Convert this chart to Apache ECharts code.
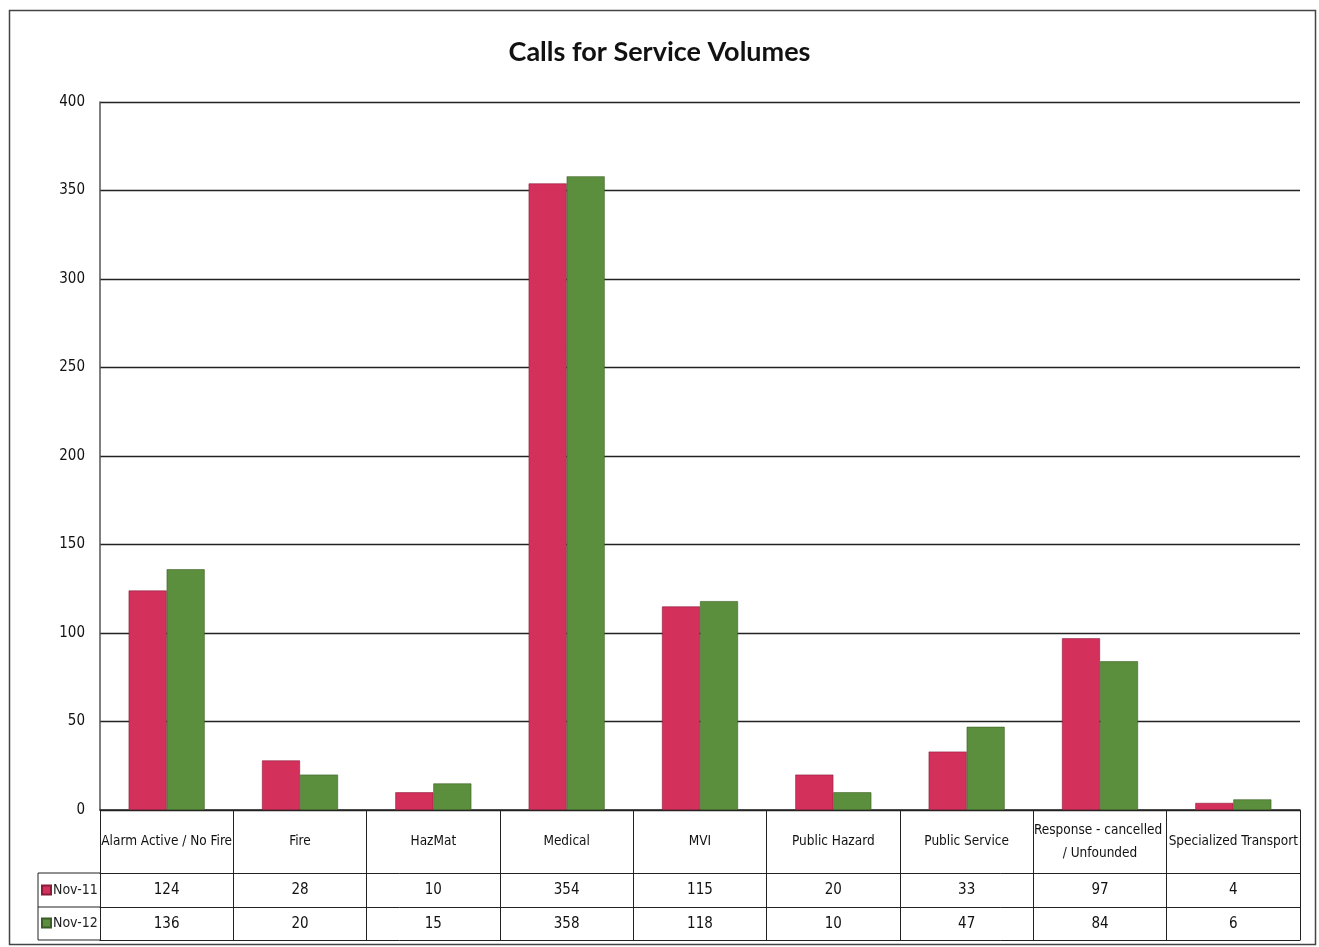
<!DOCTYPE html>
<html>
<head>
<meta charset="utf-8">
<script src="https://cdn.jsdelivr.net/npm/echarts@6/dist/echarts.min.js"></script>
<style>
  html, body { margin: 0; padding: 0; background: #fff; }
  #chart { width: 1319px; height: 947px; }
</style>
</head>
<body>
<div id="chart"></div>
<script>
const categories = [
  "Alarm Active / No Fire",
  "Fire",
  "HazMat",
  "Medical",
  "MVI",
  "Public Hazard",
  "Public Service",
  "Response - cancelled / Unfounded",
  "Specialized Transport",
];
const nov11 = [124, 28, 10, 354, 115, 20, 33, 97, 4];
const nov12 = [136, 20, 15, 358, 118, 10, 47, 84, 6];
const seriesNames = ["Nov-11", "Nov-12"];
const yTicks = { min: 0, max: 400, interval: 50 };

const dom = document.getElementById("chart");
const myChart = echarts.init(dom);

const FONT = "'Liberation Sans Narrow', 'DejaVu Sans Condensed', sans-serif";
const RED = "#d4305c";
const GREEN = "#5c8f3d";
const LINE = "#222";

// table rows under the plot: header 63px, two value rows ~34px
const headerH = 63;
const rowH = 34;

function rowAxis(offset, values, tickLen, showLabel) {
  return {
    type: "category",
    gridIndex: 0,
    position: "bottom",
    offset: offset,
    data: categories,
    axisLine: { show: true, lineStyle: { color: LINE, width: 1 } },
    axisTick: { show: tickLen > 0, length: tickLen, lineStyle: { color: LINE, width: 1 } },
    axisLabel: {
      show: showLabel,
      interval: 0,
      margin: rowH / 2,
      verticalAlign: "middle",
      fontFamily: FONT,
      fontSize: 15,
      color: "#111",
      formatter: (v, i) => (values ? String(values[i]) : ""),
    },
    splitLine: { show: false },
  };
}

const option = {
  backgroundColor: "#fff",
  animation: false,
  title: {
    text: "Calls for Service Volumes",
    left: "center",
    top: 34,
    textStyle: {
      fontFamily: "Lato",
      fontSize: 27,
      fontWeight: "bold",
      color: "#111",
    },
  },
  legend: {
    data: seriesNames,
    orient: "vertical",
    left: 38,
    top: 883,
    padding: [0, 0, 0, 3],
    itemGap: 19,
    itemWidth: 9,
    itemHeight: 9,
    icon: "rect",
    textStyle: { fontFamily: FONT, fontSize: 14, color: "#222", padding: [0, 0, 0, -3] },
    selectedMode: false,
  },
  grid: {
    left: 100,
    right: 19,
    top: 102,
    bottom: 137,
  },
  xAxis: [
    {
      type: "category",
      data: categories,
      axisLine: { show: true, lineStyle: { color: LINE, width: 1.5 } },
      axisTick: { show: true, length: headerH, lineStyle: { color: LINE, width: 1 } },
      axisLabel: {
        interval: 0,
        margin: headerH / 2,
        verticalAlign: "middle",
        width: 134,
        overflow: "break",
        lineHeight: 23,
        fontFamily: FONT,
        fontSize: 13.5,
        color: "#111",
      },
    },
    rowAxis(headerH, nov11, rowH, true),
    rowAxis(headerH + rowH, nov12, rowH - 1, true),
    rowAxis(headerH + 2 * rowH - 1, null, 0, false),
  ],
  yAxis: {
    type: "value",
    min: yTicks.min,
    max: yTicks.max,
    interval: yTicks.interval,
    axisLine: { show: true, lineStyle: { color: "#555", width: 1.5 } },
    axisTick: { show: false },
    axisLabel: {
      margin: 15,
      fontFamily: FONT,
      fontSize: 15,
      color: "#111",
    },
    splitLine: { show: true, lineStyle: { color: LINE, width: 1.3 } },
  },
  series: [
    {
      name: seriesNames[0],
      type: "bar",
      data: nov11,
      barWidth: 38,
      barGap: "0%",
      itemStyle: { color: RED, borderColor: "#8a1c3a", borderWidth: 0.6 },
    },
    {
      name: seriesNames[1],
      type: "bar",
      data: nov12,
      barWidth: 38,
      barGap: "0%",
      itemStyle: { color: GREEN, borderColor: "#3a5e25", borderWidth: 0.6 },
    },
  ],
  graphic: [
    // outer frame of the chart
    {
      type: "rect",
      shape: { x: 9.5, y: 10.5, width: 1306, height: 934 },
      style: { fill: "none", stroke: "#444", lineWidth: 1.5 },
      silent: true,
    },
    // legend key column of the data table
    {
      type: "polyline",
      shape: {
        points: [
          [100, 873],
          [38, 873],
          [38, 940],
          [100, 940],
        ],
      },
      style: { fill: "none", stroke: LINE, lineWidth: 1 },
      silent: true,
    },
    {
      type: "line",
      shape: { x1: 38, y1: 907, x2: 100, y2: 907 },
      style: { stroke: LINE, lineWidth: 1 },
      silent: true,
    },
  ],
};

option && myChart.setOption(option);
</script>
</body>
</html>
